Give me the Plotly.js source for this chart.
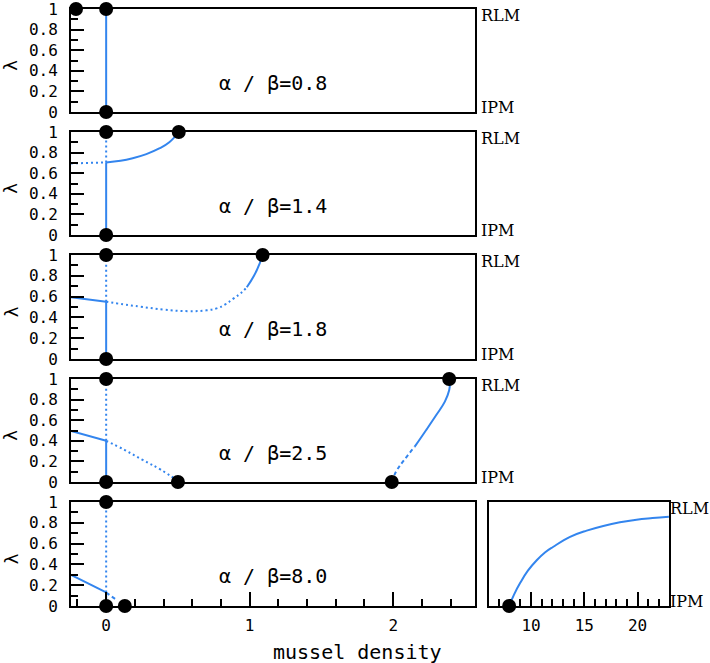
<!DOCTYPE html>
<html>
<head>
<meta charset="utf-8">
<script src="https://cdn.plot.ly/plotly-3.0.1.min.js"></script>
<style>html,body{margin:0;padding:0;background:#fff;}#chart{width:710px;height:663px;}</style>
</head>
<body>
<div id="chart"></div>
<script>
// ---------- data ----------
const ratioLabels = ["α / β=0.8", "α / β=1.4", "α / β=1.8", "α / β=2.5", "α / β=8.0"];
const xTickVals = [0, 1, 2];
const insetTickVals = [10, 15, 20];

// row 1 (α/β = 0.8)
const r1_solid_x = [0, 0];
const r1_solid_y = [0, 1];
const r1_dot_x = [-0.21, 0, 0];
const r1_dot_y = [1, 1, 0];

// row 2 (α/β = 1.4)
const r2_vert_solid_x = [0, 0];
const r2_vert_solid_y = [0, 0.705];
const r2_vert_dotted_x = [0, 0];
const r2_vert_dotted_y = [0.705, 1];
const r2_left_dotted_x = [-0.245, 0];
const r2_left_dotted_y = [0.695, 0.705];
const r2_curve_x = [0, 0.1, 0.185, 0.28, 0.37, 0.44, 0.506];
const r2_curve_y = [0.705, 0.72, 0.745, 0.785, 0.84, 0.9, 1];
const r2_dot_x = [0, 0, 0.506];
const r2_dot_y = [1, 0, 1];

// row 3 (α/β = 1.8)
const r3_left_solid_x = [-0.245, 0];
const r3_left_solid_y = [0.593, 0.551];
const r3_vert_solid_x = [0, 0];
const r3_vert_solid_y = [0, 0.551];
const r3_vert_dotted_x = [0, 0];
const r3_vert_dotted_y = [0.551, 1];
const r3_curve_dotted_x = [0, 0.12, 0.24, 0.4, 0.57, 0.7, 0.77, 0.83, 0.886, 0.94, 0.98];
const r3_curve_dotted_y = [0.551, 0.525, 0.503, 0.475, 0.46, 0.468, 0.487, 0.525, 0.58, 0.635, 0.69];
const r3_curve_solid_x = [0.98, 1.03, 1.07, 1.09];
const r3_curve_solid_y = [0.69, 0.8, 0.92, 1];
const r3_dot_x = [0, 0, 1.09];
const r3_dot_y = [1, 0, 1];

// row 4 (α/β = 2.5)
const r4_left_solid_x = [-0.245, 0];
const r4_left_solid_y = [0.495, 0.40];
const r4_vert_solid_x = [0, 0];
const r4_vert_solid_y = [0, 0.40];
const r4_vert_dotted_x = [0, 0];
const r4_vert_dotted_y = [0.40, 1];
const r4_down_dotted_x = [0, 0.13, 0.255, 0.38, 0.49];
const r4_down_dotted_y = [0.40, 0.31, 0.214, 0.12, 0.02];
const r4_right_dashed_x = [1.99, 2.02, 2.08, 2.15];
const r4_right_dashed_y = [0, 0.10, 0.22, 0.343];
const r4_right_solid_x = [2.15, 2.23, 2.30, 2.36, 2.39, 2.395, 2.39];
const r4_right_solid_y = [0.343, 0.505, 0.65, 0.78, 0.89, 0.96, 1];
const r4_dot_x = [0, 0, 0.5, 1.99, 2.39];
const r4_dot_y = [1, 0, 0, 0, 1];

// row 5 (α/β = 8.0)
const r5_left_solid_x = [-0.245, 0];
const r5_left_solid_y = [0.30, 0.13];
const r5_vert_solid_x = [0, 0];
const r5_vert_solid_y = [0, 0.13];
const r5_vert_dotted_x = [0, 0];
const r5_vert_dotted_y = [0.13, 1];
const r5_short_dashed_x = [0, 0.07];
const r5_short_dashed_y = [0.13, 0.06];
const r5_dot_x = [0, 0, 0.13];
const r5_dot_y = [1, 0, 0];

// inset (large densities)
const inset_x = [7.94, 8.4, 8.97, 9.7, 10.53, 11.3, 12.09, 13.66, 15.22, 16.78, 18.34, 19.9, 21.4, 22.94];
const inset_y = [0, 0.11, 0.22, 0.34, 0.44, 0.515, 0.57, 0.665, 0.725, 0.77, 0.805, 0.83, 0.845, 0.858];
const inset_dot_x = [7.94];
const inset_dot_y = [0];

// ---------- styling ----------
const BLUE = "#3385ee";
const LW = 2;
const MONO = "DejaVu Sans Mono";
const SERIF = "DejaVu Serif";

function ax(i) { return i === 1 ? "" : String(i); }
function line(x, y, row, dash) {
  return {x: x, y: y, xaxis: "x" + ax(row), yaxis: "y" + ax(row), type: "scatter", mode: "lines",
    line: {color: BLUE, width: LW, dash: dash || "solid", shape: "spline", smoothing: 1.2},
    cliponaxis: false, hoverinfo: "skip", showlegend: false};
}
function dots(x, y, row) {
  return {x: x, y: y, xaxis: "x" + ax(row), yaxis: "y" + ax(row), type: "scatter", mode: "markers",
    marker: {color: "#000", size: 14}, cliponaxis: false, hoverinfo: "skip", showlegend: false};
}

const DOT = "2px,3px";
const DASH = "4px,3px";

const traces = [
  line(r1_solid_x, r1_solid_y, 1),
  dots(r1_dot_x, r1_dot_y, 1),

  line(r2_vert_solid_x, r2_vert_solid_y, 2),
  line(r2_vert_dotted_x, r2_vert_dotted_y, 2, DOT),
  line(r2_left_dotted_x, r2_left_dotted_y, 2, DOT),
  line(r2_curve_x, r2_curve_y, 2),
  dots(r2_dot_x, r2_dot_y, 2),

  line(r3_left_solid_x, r3_left_solid_y, 3),
  line(r3_vert_solid_x, r3_vert_solid_y, 3),
  line(r3_vert_dotted_x, r3_vert_dotted_y, 3, DOT),
  line(r3_curve_dotted_x, r3_curve_dotted_y, 3, DOT),
  line(r3_curve_solid_x, r3_curve_solid_y, 3),
  dots(r3_dot_x, r3_dot_y, 3),

  line(r4_left_solid_x, r4_left_solid_y, 4),
  line(r4_vert_solid_x, r4_vert_solid_y, 4),
  line(r4_vert_dotted_x, r4_vert_dotted_y, 4, DOT),
  line(r4_down_dotted_x, r4_down_dotted_y, 4, DOT),
  line(r4_right_dashed_x, r4_right_dashed_y, 4, DASH),
  line(r4_right_solid_x, r4_right_solid_y, 4),
  dots(r4_dot_x, r4_dot_y, 4),

  line(r5_left_solid_x, r5_left_solid_y, 5),
  line(r5_vert_solid_x, r5_vert_solid_y, 5),
  line(r5_vert_dotted_x, r5_vert_dotted_y, 5, DOT),
  line(r5_short_dashed_x, r5_short_dashed_y, 5, DASH),
  dots(r5_dot_x, r5_dot_y, 5),

  line(inset_x, inset_y, 6),
  dots(inset_dot_x, inset_dot_y, 6)
];

const W = 710, H = 663;
const mainX = [71 / W, 475 / W];
const insetX = [489 / W, 669 / W];
const rowsPx = [[9, 112], [132, 235], [255, 359], [379, 482], [502, 606]];
const rowDomains = rowsPx.map(function (r) { return [1 - r[1] / H, 1 - r[0] / H]; });

const layout = {
  width: W, height: H,
  margin: {l: 0, r: 0, t: 0, b: 0},
  paper_bgcolor: "#fff", plot_bgcolor: "#fff",
  showlegend: false,
  font: {family: MONO, size: 16, color: "#000"},
  annotations: []
};

function sideLabel(text, xpx, yref, yval) {
  return {xref: "paper", yref: yref, x: xpx / W, y: yval, xanchor: "left", yanchor: "middle",
    text: text, showarrow: false, borderpad: 0, borderwidth: 0,
    font: {family: SERIF, size: 16, color: "#000"}};
}

for (let i = 1; i <= 5; i++) {
  const xa = {
    domain: mainX, range: [-0.245, 2.57], anchor: "y" + ax(i),
    showline: true, linecolor: "#000", linewidth: 2, mirror: true,
    showgrid: false, zeroline: false, fixedrange: true
  };
  if (i === 5) {
    Object.assign(xa, {
      ticks: "inside", ticklen: 14, tickwidth: 2, tickcolor: "#000",
      tickmode: "array", tickvals: xTickVals, ticktext: xTickVals.map(String),
      tickfont: {family: MONO, size: 16, color: "#000"}, ticklabelstandoff: 4,
      minor: {dtick: 0.2, tick0: 0, ticks: "inside", ticklen: 7, tickwidth: 2, tickcolor: "#000", showgrid: false}
    });
  } else {
    Object.assign(xa, {ticks: "", showticklabels: false});
  }
  layout["xaxis" + ax(i)] = xa;
  layout["yaxis" + ax(i)] = {
    domain: rowDomains[i - 1], range: [0, 1], anchor: "x" + ax(i),
    showline: true, linecolor: "#000", linewidth: 2, mirror: true,
    showgrid: false, zeroline: false, fixedrange: true,
    ticks: "inside", ticklen: 13, tickwidth: 2, tickcolor: "#000",
    dtick: 0.2, tick0: 0, tickfont: {family: MONO, size: 16, color: "#000"},
    ticklabelstandoff: 8, ticklabeloverflow: "allow",
    minor: {dtick: 0.1, tick0: 0, ticks: "inside", ticklen: 7, tickwidth: 2, tickcolor: "#000", showgrid: false}
  };
  layout.annotations.push({
    xref: "x" + ax(i), yref: "y" + ax(i), x: 1.16, y: 0.285, text: ratioLabels[i - 1],
    showarrow: false, font: {family: MONO, size: 20, color: "#000"}
  });
  if (i < 5) {
    layout.annotations.push(sideLabel("RLM", 481, "y" + ax(i), 0.94));
    layout.annotations.push(sideLabel("IPM", 481, "y" + ax(i), 0.04));
  }
  layout.annotations.push({
    xref: "paper", yref: "y" + ax(i), x: 11 / W, y: 0.45, xanchor: "center", yanchor: "middle",
    text: "λ", textangle: -90, showarrow: false, font: {family: "DejaVu Sans", size: 18, color: "#000"}
  });
}

layout.xaxis6 = {
  domain: insetX, range: [6.05, 22.95], anchor: "y6",
  showline: true, linecolor: "#000", linewidth: 2, mirror: true,
  showgrid: false, zeroline: false, fixedrange: true,
  ticks: "inside", ticklen: 14, tickwidth: 2, tickcolor: "#000",
  tickmode: "array", tickvals: insetTickVals, ticktext: insetTickVals.map(String),
  tickfont: {family: MONO, size: 16, color: "#000"}, ticklabelstandoff: 4,
  minor: {dtick: 1, tick0: 0, ticks: "inside", ticklen: 7, tickwidth: 2, tickcolor: "#000", showgrid: false}
};
layout.yaxis6 = {
  domain: rowDomains[4], range: [0, 1], anchor: "x6",
  showline: true, linecolor: "#000", linewidth: 2, mirror: true,
  showgrid: false, zeroline: false, fixedrange: true, ticks: "", showticklabels: false
};
layout.annotations.push(sideLabel("RLM", 670, "y6", 0.94));
layout.annotations.push(sideLabel("IPM", 670, "y6", 0.04));
layout.annotations.push({
  xref: "paper", yref: "paper", x: 357 / W, y: 1 - 652 / H, xanchor: "center", yanchor: "middle",
  text: "mussel density", showarrow: false, font: {family: MONO, size: 20, color: "#000"}
});

Plotly.newPlot("chart", traces, layout, {staticPlot: true, displayModeBar: false});
</script>
</body>
</html>
